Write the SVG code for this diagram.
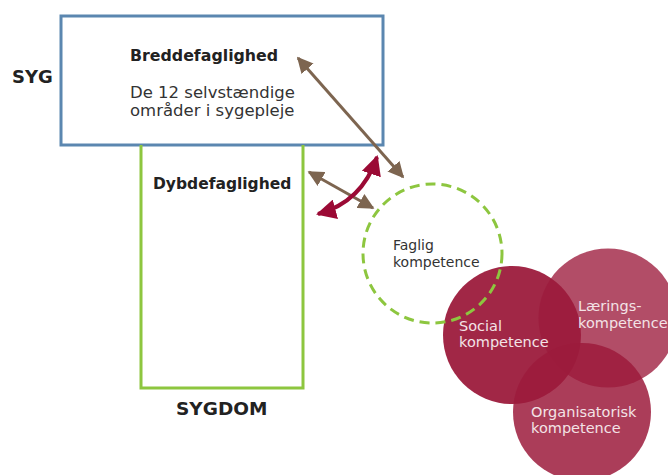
<svg xmlns="http://www.w3.org/2000/svg" width="668" height="475" viewBox="0 0 668 475">
<defs>
<style>
text{font-family:"DejaVu Sans","Liberation Sans",sans-serif;}
.b{font-weight:bold;fill:#222;font-size:15.8px}
.t{fill:#333;font-size:16.5px}
.w{fill:#f3e3e6;font-size:14.5px}
.f{fill:#333;font-size:14px}
.br{stroke:#7d6550;stroke-width:3;fill:none}
</style>
<marker id="ah" viewBox="0 0 10 10" refX="9" refY="5" markerWidth="16" markerHeight="16" markerUnits="userSpaceOnUse" orient="auto-start-reverse"><path d="M0,0 L10,5 L0,10 z" fill="#7d6550"/></marker>
<marker id="rh" viewBox="0 0 10 10" refX="9" refY="5" markerWidth="20" markerHeight="20" markerUnits="userSpaceOnUse" orient="auto-start-reverse"><path d="M0,0 L10,5 L0,10 z" fill="#9b0a35"/></marker>
</defs>
<rect width="668" height="475" fill="#fff"/>
<g id="syg-box">
<rect x="61" y="16" width="322" height="129" fill="#fff" stroke="#5b87b0" stroke-width="3"/>
<text class="b" x="130" y="61">Breddefaglighed</text>
<text class="t" x="130" y="98">De 12 selvstændige</text>
<text class="t" x="130" y="116">områder i sygepleje</text>
</g>
<g id="syg-label"><text class="b" x="12" y="83" style="font-size:18px">SYG</text></g>
<g id="sygdom-box">
<path d="M141,145 V388 H303 V145" fill="none" stroke="#8dc63f" stroke-width="3"/>
<text class="b" x="153" y="189" style="font-size:15.5px">Dybdefaglighed</text>
</g>
<g id="sygdom-label"><text class="b" x="176" y="415" style="font-size:18.5px">SYGDOM</text></g>
<g id="circles">
<g id="social"><circle cx="512" cy="335" r="69" fill="#9c1b3c" opacity="0.95"/></g>
<g id="laerings"><circle cx="608" cy="318" r="69.5" fill="#9c1b3c" opacity="0.78"/></g>
<g id="organisatorisk"><circle cx="582" cy="412" r="69" fill="#9c1b3c" opacity="0.85"/></g>
<g id="faglig"><circle cx="432.5" cy="253.5" r="69.5" fill="none" stroke="#8dc63f" stroke-width="3" stroke-dasharray="10 6"/>
<text class="f" x="393" y="250">Faglig</text>
<text class="f" x="393" y="267">kompetence</text></g>
<text class="w" x="459" y="331">Social</text>
<text class="w" x="459" y="347">kompetence</text>
<text class="w" x="578" y="311">Lærings-</text>
<text class="w" x="578" y="328">kompetence</text>
<text class="w" x="531" y="417">Organisatorisk</text>
<text class="w" x="531" y="433">kompetence</text>
</g>
<g id="connectors">
<line class="br" x1="298" y1="58" x2="403" y2="177" marker-start="url(#ah)" marker-end="url(#ah)"/>
<line class="br" x1="309" y1="172" x2="373" y2="208" marker-start="url(#ah)" marker-end="url(#ah)"/>
<path d="M318,214 Q362,202 377,157" fill="none" stroke="#9b0a35" stroke-width="4" marker-start="url(#rh)" marker-end="url(#rh)"/>
</g>
</svg>
